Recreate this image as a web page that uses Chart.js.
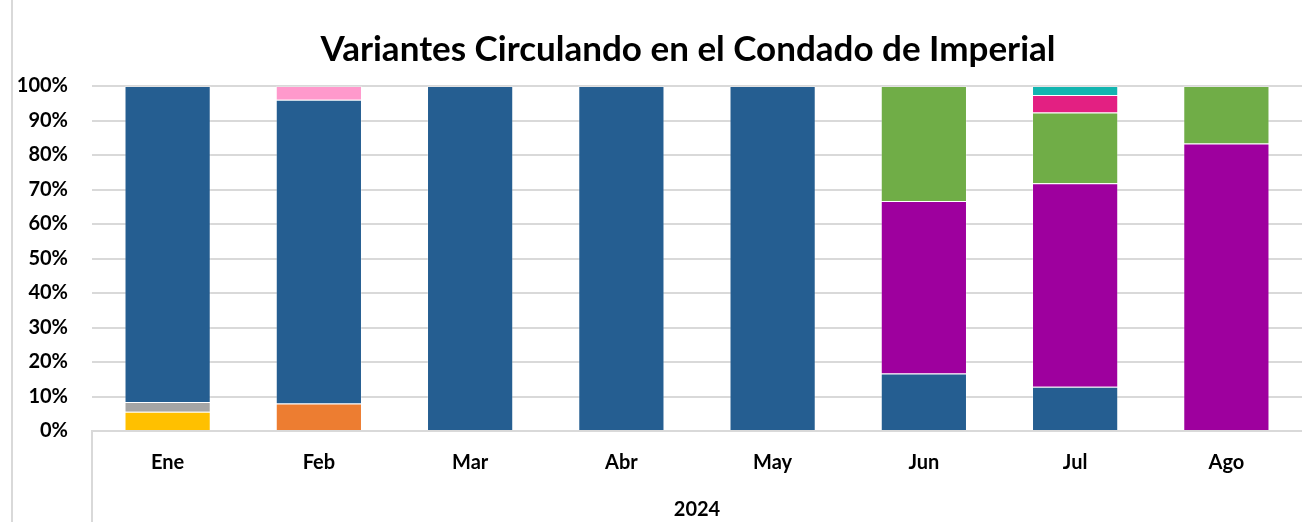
<!DOCTYPE html>
<html>
<head>
<meta charset="utf-8">
<script src="https://cdn.jsdelivr.net/npm/chart.js@4"></script>
<style>
  html, body { margin: 0; padding: 0; background: #fff; }
  #wrap { width: 1302px; height: 522px; position: relative; }
</style>
</head>
<body>
<div id="wrap"><canvas id="variantes"></canvas></div>
<script>
const months = ["Ene", "Feb", "Mar", "Abr", "May", "Jun", "Jul", "Ago"];
const yearLabel = "2024";
const chartTitle = "Variantes Circulando en el Condado de Imperial";

// percent of samples per variant
const amarillo = [5.6, 0, 0, 0, 0, 0, 0, 0];
const naranja  = [0, 8, 0, 0, 0, 0, 0, 0];
const gris     = [2.8, 0, 0, 0, 0, 0, 0, 0];
const azul     = [91.6, 88, 100, 100, 100, 16.7, 12.8, 0];
const morado   = [0, 0, 0, 0, 0, 50, 59, 83.3];
const verde    = [0, 0, 0, 0, 0, 33.3, 20.5, 16.7];
const fucsia   = [0, 0, 0, 0, 0, 0, 5.1, 0];
const turquesa = [0, 0, 0, 0, 0, 0, 2.6, 0];
const rosa     = [0, 4, 0, 0, 0, 0, 0, 0];

const FONT = "Lato, 'Open Sans', sans-serif";

function serie(label, data, color) {
  return {
    label: label,
    data: data,
    backgroundColor: color,
    borderColor: "rgba(255,255,255,0.25)",
    borderWidth: 1,
    barPercentage: 0.57,
    categoryPercentage: 1.0
  };
}

// frame line on the left + category separator under the x axis
const marcoPlugin = {
  id: "marco",
  afterLayout(chart) {
    // the original chart frame is wider than the picture, so the title sits right of centre
    if (chart.titleBlock) {
      chart.titleBlock.left += 74;
    }
  },
  afterDraw(chart) {
    const ctx = chart.ctx;
    const a = chart.chartArea;
    ctx.save();
    ctx.strokeStyle = "#d9d9d9";
    ctx.lineWidth = 2;
    ctx.beginPath();
    ctx.moveTo(12, 0);
    ctx.lineTo(12, chart.height);
    ctx.moveTo(a.left, a.bottom);
    ctx.lineTo(a.left, chart.height);
    ctx.stroke();
    ctx.restore();
  }
};

new Chart(document.getElementById("variantes"), {
  type: "bar",
  data: {
    labels: months,
    datasets: [
      serie("A", amarillo, "#FFC000"),
      serie("B", naranja, "#ED7D31"),
      serie("C", gris, "#A5A5A5"),
      serie("D", azul, "#255E91"),
      serie("E", morado, "#9E009E"),
      serie("F", verde, "#70AD47"),
      serie("G", fucsia, "#E32082"),
      serie("H", turquesa, "#12B5B0"),
      serie("I", rosa, "#FF99CC")
    ]
  },
  options: {
    responsive: true,
    maintainAspectRatio: false,
    animation: false,
    layout: { padding: { left: 0, right: 0, top: 0, bottom: 0 } },
    plugins: {
      legend: { display: false },
      tooltip: { enabled: false },
      title: {
        display: true,
        text: chartTitle,
        color: "#000",
        font: { family: FONT, size: 35, weight: "bold" },
        padding: { top: 29, bottom: 15 }
      }
    },
    scales: {
      x: {
        stacked: true,
        grid: { display: false, drawTicks: false },
        border: { display: true, color: "#d9d9d9", width: 2 },
        ticks: {
          color: "#000",
          padding: 20,
          font: { family: FONT, size: 20, weight: "bold" }
        },
        title: {
          display: true,
          text: yearLabel,
          color: "#000",
          font: { family: FONT, size: 20, weight: "bold" },
          padding: { top: 0, bottom: 0 }
        },
        afterFit: s => { s.height = 91; }
      },
      y: {
        stacked: true,
        min: 0,
        max: 100,
        border: { display: false },
        grid: { color: "#d9d9d9", lineWidth: 2, drawTicks: false },
        ticks: {
          stepSize: 10,
          color: "#000",
          padding: 24,
          font: { family: FONT, size: 20, weight: "bold" },
          callback: v => v + "%"
        },
        afterFit: s => { s.width = 92; }
      }
    }
  },
  plugins: [marcoPlugin]
});
</script>
</body>
</html>
